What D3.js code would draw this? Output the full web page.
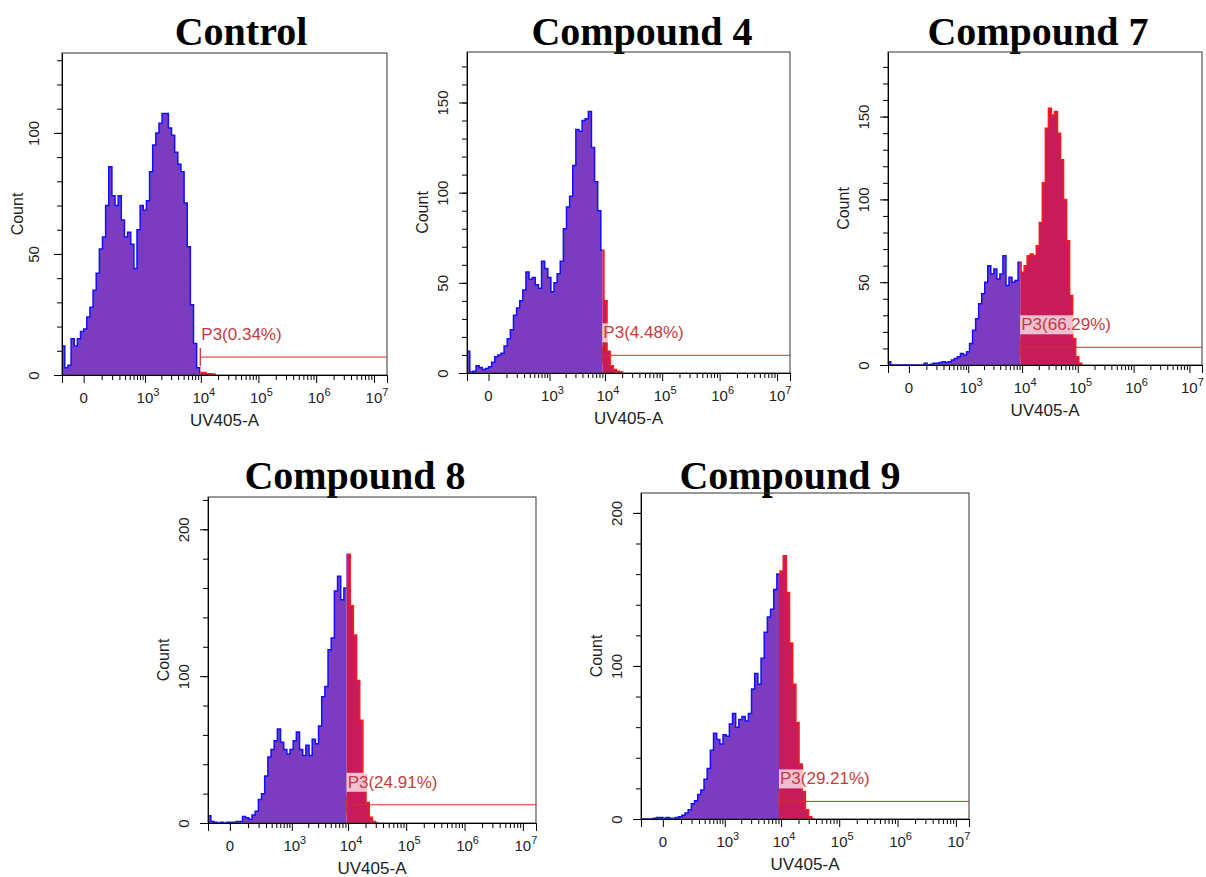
<!DOCTYPE html>
<html>
<head>
<meta charset="utf-8">
<script src="https://cdn.jsdelivr.net/npm/d3@7"></script>
<style>
  body { margin: 0; background: #fff; }
  svg text { font-family: "Liberation Sans", Arial, sans-serif; fill: #222; }
  .title { font-family: "Liberation Serif", "Times New Roman", serif; font-weight: bold; fill: #000; }
</style>
</head>
<body>
<svg id="chart" width="1206" height="877"></svg>
<script>
// ---- data ----
const panelTitles = ["Control", "Compound 4", "Compound 7", "Compound 8", "Compound 9"];
const gateNames = ["P3(0.34%)", "P3(4.48%)", "P3(66.29%)", "P3(24.91%)", "P3(29.21%)"];
const gateStarts = [9800, 9000, 9250, 9450, 9200];   // UV405-A value where P3 begins
const gateLevels = [7.4, 9.8, 10.7, 12.4, 11.5];     // count level of the gate bar
const yMaxes = [133, 178, 189, 222, 213];
const yMajorTicks = [[0, 50, 100], [0, 50, 100, 150], [0, 50, 100, 150], [0, 100, 200], [0, 100, 200]];
const yMinorSteps = [10, 10, 10, 20, 20];
const xMajorTicks = [0, 1e3, 1e4, 1e5, 1e6, 1e7];
const xTickLabels = ["0", "3", "4", "5", "6", "7"];   // exponents of 10

// histogram counts, one per display channel (channels are 0.125 wide in symlog units, starting at -0.875)
const countsControl = [12, 3, 4, 15, 12, 15, 18, 19, 24, 28, 35, 42, 52, 57, 70, 86, 74, 70, 74, 64,
  57, 59, 54, 44, 60, 70, 68, 72, 84, 95, 100, 104, 108, 108, 102, 99, 92, 87, 84, 71,
  53, 29, 13, 3, 1, 1, 0.5, 0.5, 0.3];
const countsCompound4 = [12, 0.5, 1, 4, 3, 2, 2.5, 3.5, 6, 9, 10, 11, 15, 19, 24, 32, 36, 40, 46, 56,
  52, 53, 49, 47, 62, 58, 53, 45, 50, 55, 62, 80, 92, 98, 115, 135, 134, 140, 141, 145,
  125, 106, 90, 68, 40, 12, 4, 2, 1, 0.5];
const countsCompound7 = [2, 0, 0, 0, 0, 0, 0, 0, 0, 0, 0, 0, 1, 0, 0.5, 1, 1, 1.5, 2, 1.5,
  2, 3, 4, 5, 7, 6, 8, 13, 21, 28, 37, 43, 50, 60, 55, 58, 52, 55, 66, 48,
  53, 50, 51, 62, 56, 60, 66, 67, 66, 72, 86, 110, 143, 155, 151, 153, 140, 124, 100, 75,
  42, 16, 5, 1];
const countsCompound8 = [5, 1, 0.5, 0, 0.5, 0, 0.5, 0.5, 0.5, 1, 1, 4.5, 3.5, 2.5, 5.5, 8, 16, 20, 32, 45,
  50, 56, 64, 55, 50, 47, 50, 56, 62, 50, 46, 53, 46, 57, 54, 66, 86, 93, 118, 126,
  158, 168, 152, 160, 183, 148, 128, 97, 70, 33, 14, 4, 1, 0];
const countsCompound9 = [0, 0, 0, 0, 0.5, 1, 1, 0.5, 1, 0.5, 0.5, 1, 1.5, 2.5, 4, 6, 10, 12, 16, 19,
  26, 33, 45, 56, 52, 49, 55, 54, 62, 69, 60, 65, 67, 64, 69, 85, 95, 88, 105, 122,
  132, 137, 150, 160, 162, 172, 148, 115, 88, 63, 36, 18, 6, 1.5, 0];
const panelCounts = [countsControl, countsCompound4, countsCompound7, countsCompound8, countsCompound9];

// ---- layout ----
const symlogConstant = 95,
    xDomain = [-130, 16777216],
    binStartT = -0.875,
    binWidthT = 0.125;

const panelBoxes = [
    { left: 62, top: 53, right: 387, bottom: 375, titleX: 241, titleY: 45, yLabelX: -23 },
    { left: 467, top: 52, right: 790, bottom: 373, titleX: 642, titleY: 45, yLabelX: -19 },
    { left: 888, top: 52, right: 1202, bottom: 365, titleX: 1038, titleY: 45, yLabelX: -19 },
    { left: 208, top: 497, right: 536, bottom: 823, titleX: 355, titleY: 489, yLabelX: -19 },
    { left: 641, top: 493, right: 969, bottom: 819, titleX: 790, titleY: 489, yLabelX: -19 }
];

const fillLow = "#7b3cc0", strokeLow = "#1010ff",
    fillHigh = "#c81b5a", strokeHigh = "#ff1a1a",
    gateColor = "#cc3333";

// symlog units back to channel value
const fromT = t => Math.sign(t) * symlogConstant * Math.expm1(Math.abs(t));

const svg = d3.select("#chart");

const drawPanel = function (i) {
    var b = panelBoxes[i],
        w = b.right - b.left,
        h = b.bottom - b.top;

    var x = d3.scaleSymlog().constant(symlogConstant).domain(xDomain).range([b.left, b.right]),
        y = d3.scaleLinear().domain([0, yMaxes[i]]).range([b.bottom, b.top]);

    var g = svg.append("g").attr("class", "panel");

    // title
    g.append("text")
        .attr("class", "title")
        .attr("x", b.titleX)
        .attr("y", b.titleY)
        .attr("text-anchor", "middle")
        .attr("font-size", "40px")
        .text(panelTitles[i]);

    // histogram channels
    var counts = panelCounts[i];
    var bins = counts.map((c, k) => ({ x0: fromT(binStartT + k * binWidthT), count: c }));
    bins.push({ x0: fromT(binStartT + counts.length * binWidthT), count: 0 });

    var gx = x(gateStarts[i]),
        gy = y(gateLevels[i]);

    var defs = g.append("defs");
    defs.append("clipPath").attr("id", "low" + i)
        .append("rect").attr("x", b.left).attr("y", b.top).attr("width", gx - b.left).attr("height", h);
    defs.append("clipPath").attr("id", "high" + i)
        .append("rect").attr("x", gx).attr("y", b.top).attr("width", b.right - gx).attr("height", h);

    var area = d3.area()
        .x(d => x(d.x0))
        .y0(y(0))
        .y1(d => y(d.count))
        .curve(d3.curveStepAfter);
    var line = d3.line()
        .x(d => x(d.x0))
        .y(d => y(d.count))
        .curve(d3.curveStepAfter);

    [["low", fillLow, strokeLow], ["high", fillHigh, strokeHigh]].forEach(function (part) {
        var pg = g.append("g").attr("clip-path", "url(#" + part[0] + i + ")");
        pg.append("path").attr("d", area(bins)).attr("fill", part[1]);
        pg.append("path").attr("d", line(bins)).attr("fill", "none")
            .attr("stroke", part[2]).attr("stroke-width", 1.5);
    });

    // frame
    g.append("rect")
        .attr("x", b.left).attr("y", b.top)
        .attr("width", w).attr("height", h)
        .attr("fill", "none").attr("stroke", "#333").attr("stroke-width", 1);

    // gate P3
    g.append("line")
        .attr("x1", gx).attr("x2", b.right)
        .attr("y1", gy).attr("y2", gy)
        .attr("stroke", gateColor).attr("stroke-width", 1);
    g.append("line")
        .attr("x1", gx).attr("x2", gx)
        .attr("y1", gy - 9).attr("y2", gy + 9)
        .attr("stroke", gateColor).attr("stroke-width", 1.3);
    var gateLabel = g.append("text")
        .attr("x", gx + 1)
        .attr("y", gy - 17)
        .attr("font-size", "17px")
        .style("fill", "#c43c3c")
        .text(gateNames[i]);
    var bb = gateLabel.node().getBBox();
    g.insert("rect", function () { return gateLabel.node(); })
        .attr("x", bb.x - 1).attr("y", bb.y)
        .attr("width", bb.width + 2).attr("height", bb.height)
        .attr("fill", "#fff").attr("fill-opacity", 0.72);

    // y axis
    var yMinor = d3.range(0, yMaxes[i], yMinorSteps[i]);
    g.append("g")
        .attr("transform", "translate(" + b.left + ",0)")
        .call(d3.axisLeft(y).tickValues(yMinor).tickSize(5).tickSizeOuter(0).tickFormat(""));
    var yAxis = g.append("g")
        .attr("transform", "translate(" + b.left + ",0)")
        .call(d3.axisLeft(y).tickValues(yMajorTicks[i]).tickSize(8).tickSizeOuter(0));
    yAxis.selectAll(".tick text")
        .attr("transform", "rotate(-90)")
        .attr("x", 0)
        .attr("y", b.yLabelX)
        .attr("dy", 0)
        .attr("text-anchor", "middle")
        .attr("font-size", "15px")
        .attr("font-family", null);

    // x axis
    var xMinor = d3.range(2, 7)
        .flatMap(n => d3.range(1, 10).map(k => k * Math.pow(10, n)))
        .filter(v => xMajorTicks.indexOf(v) < 0);
    g.append("g")
        .attr("transform", "translate(0," + b.bottom + ")")
        .call(d3.axisBottom(x).tickValues(xMinor).tickSize(5).tickSizeOuter(0).tickFormat(""));
    g.append("g")
        .attr("transform", "translate(0," + b.bottom + ")")
        .call(d3.axisBottom(x).tickValues(xMajorTicks).tickSize(8).tickSizeOuter(8).tickFormat(""));

    g.selectAll(".domain").attr("stroke", "#000");
    g.selectAll(".tick line").attr("stroke", "#000");

    xMajorTicks.forEach(function (v, k) {
        var t = g.append("text")
            .attr("x", x(v))
            .attr("y", b.bottom + 28)
            .attr("font-size", "15px")
            .attr("text-anchor", "middle");
        if (v === 0) {
            t.text(xTickLabels[k]);
        } else {
            t.attr("dx", 3);
            t.append("tspan").text("10");
            t.append("tspan").attr("dy", -7).attr("font-size", "11px").text(xTickLabels[k]);
        }
    });

    // axis titles
    g.append("text")
        .attr("x", (b.left + b.right) / 2)
        .attr("y", b.bottom + 51)
        .attr("text-anchor", "middle")
        .attr("font-size", "17px")
        .text("UV405-A");
    g.append("text")
        .attr("transform", "translate(" + (b.left - 39) + "," + (b.top + h / 2) + ") rotate(-90)")
        .attr("text-anchor", "middle")
        .attr("font-size", "16px")
        .text("Count");
};

panelTitles.forEach((d, i) => drawPanel(i));
</script>
</body>
</html>
